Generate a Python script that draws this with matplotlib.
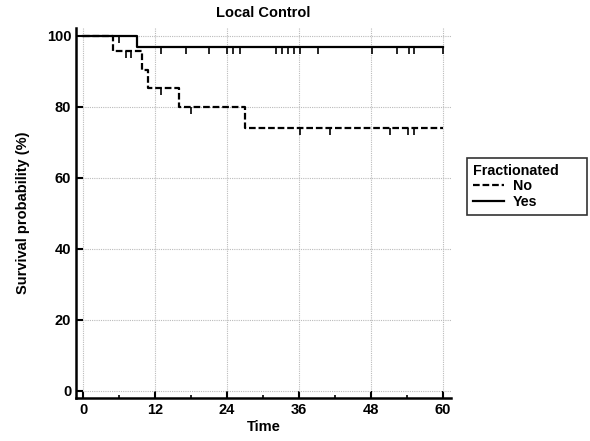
import numpy as np
import matplotlib
matplotlib.use("Agg")
import matplotlib.pyplot as plt
from matplotlib.ticker import MultipleLocator

plt.rcParams['font.family'] = ['Liberation Sans', 'DejaVu Sans']
plt.rcParams['font.weight'] = 'bold'

# Kaplan-Meier steps
no_times = [0, 4.9, 9.8, 10.8, 16.0, 27.0, 60]
no_surv = [100, 95.6, 90.4, 85.3, 80.0, 73.9, 73.9]
no_censor = [7.1, 8.0, 13.0, 18.0, 36.1, 41.1, 51.2, 54.2, 55.1]

yes_times = [0, 8.9, 60]
yes_surv = [100, 96.9, 96.9]
yes_censor = [6.0, 13.0, 17.1, 20.9, 23.9, 24.9, 26.1, 32.1, 33.1, 34.1,
              35.1, 36.1, 39.2, 48.2, 52.3, 54.3, 55.1, 60.0]

x_ticks = [0, 12, 24, 36, 48, 60]
y_ticks = [0, 20, 40, 60, 80, 100]


def surv_at(times, surv, t):
    idx = np.searchsorted(times, t, side='right') - 1
    return np.array(surv)[idx]


fig = plt.figure(figsize=(5.9, 4.41), dpi=100)
ax = fig.add_axes([0.129, 0.0975, 0.635, 0.839])

ax.grid(True, color='#bbbbbb', linestyle=(0, (1, 1)), linewidth=0.8)
ax.set_axisbelow(True)

ax.step(no_times, no_surv, where='post', color='black', lw=1.6,
        linestyle=(0, (3, 1.3)), label='No')
ax.step(yes_times, yes_surv, where='post', color='black', lw=1.6,
        label='Yes')

ax.plot(no_censor, surv_at(no_times, no_surv, no_censor), linestyle='none',
        marker=3, markersize=5, mew=1.2, color='black')
ax.plot(yes_censor, surv_at(yes_times, yes_surv, yes_censor), linestyle='none',
        marker=3, markersize=5, mew=1.2, color='black')

ax.set_xlim(-1.2, 61.3)
ax.set_ylim(-2.1, 102.2)
ax.set_xticks(x_ticks)
ax.set_yticks(y_ticks)
ax.xaxis.set_minor_locator(MultipleLocator(6))
ax.tick_params(axis='both', which='major', direction='in', length=5,
               width=1.5, labelsize=10.5)
ax.tick_params(axis='x', which='minor', direction='in', length=2, width=1.2)
ax.tick_params(axis='y', which='minor', left=False)

for s in ['top', 'right']:
    ax.spines[s].set_visible(False)
for s in ['left', 'bottom']:
    ax.spines[s].set_linewidth(1.8)

ax.set_title('Local Control', fontsize=10.5, fontweight='bold', pad=8)
ax.set_xlabel('Time', fontsize=10.5, fontweight='bold', labelpad=2)
ax.set_ylabel('Survival probability (%)', fontsize=10.5, fontweight='bold',
              labelpad=12)

leg = fig.legend(loc='upper left',
                 bbox_to_anchor=(467 / 590, 1 - 217 / 441, 120 / 590, 59 / 441),
                 mode='expand', borderaxespad=0,
                 title='Fractionated', fontsize=10.3, handlelength=2.2,
                 handletextpad=0.6, frameon=True, fancybox=False,
                 borderpad=0.4, labelspacing=0.12,
                 title_fontproperties={'weight': 'bold', 'size': 10.3})
leg._legend_box.align = 'left'
leg.get_frame().set_edgecolor('black')
leg.get_frame().set_linewidth(1.2)

fig.savefig('out.png', dpi=100)
